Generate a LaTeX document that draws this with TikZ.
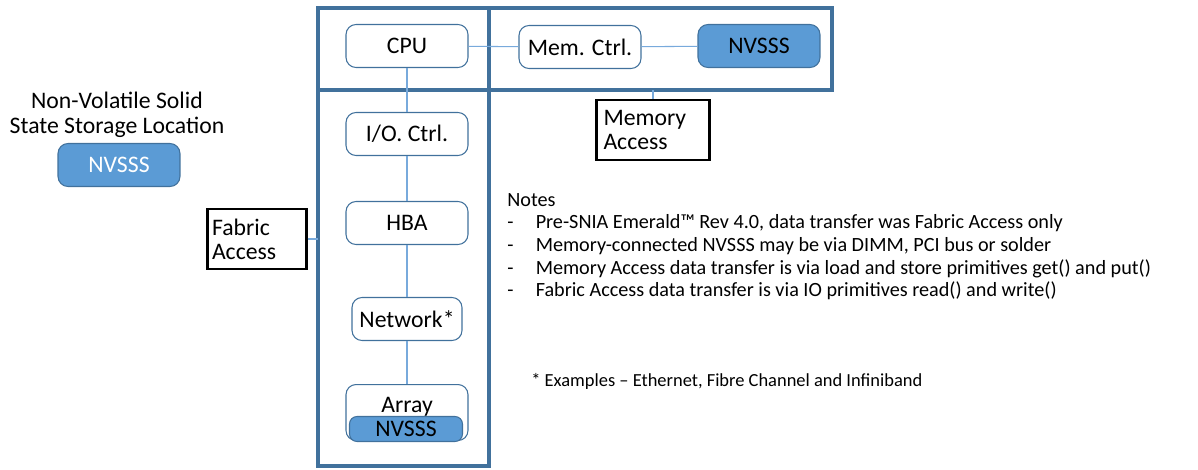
\documentclass[tikz,border=0pt]{standalone}
\usepackage{fontspec}
\setmainfont{Carlito}
\usetikzlibrary{positioning}
\definecolor{frameblue}{RGB}{65,113,156}
\definecolor{fillblue}{RGB}{91,155,213}
\definecolor{linkblue}{RGB}{120,170,220}

\begin{document}
\begin{tikzpicture}[x=0.02cm,y=-0.02cm,
    unit/.style={draw=frameblue,fill=white,rounded corners=2mm,line width=0.6pt,
        minimum width=2.44cm,minimum height=0.86cm,inner sep=0pt,
        font=\fontsize{13.5}{16}\selectfont},
    nvsss/.style={unit,fill=fillblue},
    link/.style={draw=linkblue,line width=0.6pt},
    frame/.style={draw=frameblue,line width=2pt},
    access/.style={draw=black,line width=1.3pt,align=left,inner sep=0pt,
        minimum height=1.2cm,
        font=\fontsize{13.5}{13.8}\selectfont}]
    \useasboundingbox (0,0) rectangle (1198,470);
%Frames
    \draw[frame] (318,8) rectangle (489,466);
    \draw[frame] (318,8) rectangle (832,90);
%Legend
    \node[font=\fontsize{13.5}{14.2}\selectfont,align=center] (title) at (117,115)
        {Non-Volatile Solid\\State Storage Location};
    \node[nvsss,text=white] (legend) at (119,165) {NVSSS};
%Nodes
    \node[unit] (cpu) at (407,46) {CPU};
    \node[unit] (mem) at (580,47) {Mem. Ctrl.};
    \node[nvsss] (nv1) at (759,46) {NVSSS};
    \node[unit] (io) at (407,134) {I/O. Ctrl.};
    \node[unit] (hba) at (407,223) {HBA};
    \node[unit,minimum width=2.2cm] (net) at (407,319) {Network*};
    \node[unit,minimum height=1.12cm,anchor=north] (array) at (407,384) {};
    \node[anchor=north,font=\fontsize{13.5}{16}\selectfont] (arrlbl) at (array.north) [yshift=-0.14cm] {Array};
    \node[nvsss,minimum width=2.26cm,minimum height=0.5cm,rounded corners=1.5mm] (nv2) at (406,429) {NVSSS};
%Access labels
    \node[access,minimum width=1.98cm,text width=1.8cm] (fab) at (257,239) {Fabric\\Access};
    \node[access,minimum width=2.26cm,text width=1.98cm] (memacc) at (653,130) {Memory\\Access};
    \coordinate (fabend) at (318,239);
    \coordinate (memend) at (653,90);
%Links
    \draw[link] (cpu) -- (mem);
    \draw[link] (mem) -- (nv1);
    \draw[link] (cpu) -- (io);
    \draw[link] (io) -- (hba);
    \draw[link] (hba) -- (net);
    \draw[link] (net) -- (array);
    \draw[link] (fab) -- (fabend);
    \draw[link] (memacc) -- (memend);
%Notes
    \node[anchor=north west,align=left,inner sep=0pt,font=\fontsize{11.5}{12.9}\selectfont] (notes) at (507,193)
        {Notes\\
        -\hspace{1.1em}Pre-SNIA Emerald™ Rev 4.0, data transfer was Fabric Access only\\
        -\hspace{1.1em}Memory-connected NVSSS may be via DIMM, PCI bus or solder\\
        -\hspace{1.1em}Memory Access data transfer is via load and store primitives get() and put()\\
        -\hspace{1.1em}Fabric Access data transfer is via IO primitives read() and write()};
    \node[anchor=west,inner sep=0pt,font=\fontsize{10.5}{12}\selectfont] (foot) at (531,381)
        {* Examples -- Ethernet, Fibre Channel and Infiniband};
\end{tikzpicture}
\end{document}
